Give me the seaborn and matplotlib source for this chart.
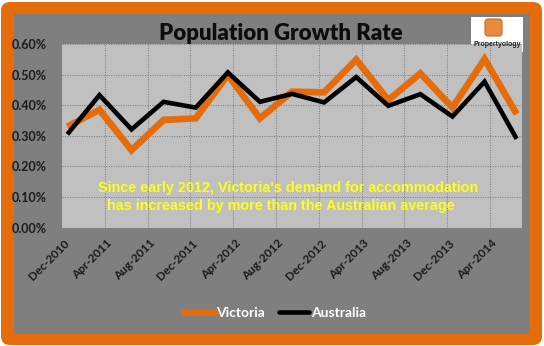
import matplotlib
matplotlib.use("Agg")
import matplotlib.pyplot as plt
import seaborn as sns
import pandas as pd
from matplotlib.patches import FancyBboxPatch, Rectangle
from matplotlib.lines import Line2D
from matplotlib.transforms import IdentityTransform

# ---- data ----
quarters = ["Dec-2010", "Mar-2011", "Jun-2011", "Sep-2011", "Dec-2011", "Mar-2012",
            "Jun-2012", "Sep-2012", "Dec-2012", "Mar-2013", "Jun-2013", "Sep-2013",
            "Dec-2013", "Mar-2014", "Jun-2014"]
victoria = [0.330, 0.385, 0.253, 0.352, 0.357, 0.499, 0.357, 0.444, 0.442,
            0.549, 0.417, 0.504, 0.392, 0.551, 0.371]
australia = [0.305, 0.433, 0.321, 0.411, 0.392, 0.507, 0.411, 0.437, 0.409,
             0.492, 0.398, 0.436, 0.363, 0.477, 0.290]
tick_labels = ["Dec-2010", "Apr-2011", "Aug-2011", "Dec-2011", "Apr-2012", "Aug-2012",
               "Dec-2012", "Apr-2013", "Aug-2013", "Dec-2013", "Apr-2014"]
y_ticks = [0.0, 0.1, 0.2, 0.3, 0.4, 0.5, 0.6]
series_names = ["Victoria", "Australia"]
colors = {"Victoria": "#E46C0A", "Australia": "#000000"}
widths = {"Victoria": 4.8, "Australia": 3.3}
title = "Population Growth Rate"
note1 = "Since early 2012, Victoria's demand for accommodation"
note2 = "has increased by more than the Australian average"

def month_index(labels):
    d = pd.to_datetime(labels, format="%b-%Y")
    base = pd.Timestamp("2010-12-01")
    return [(x.year - base.year) * 12 + (x.month - base.month) for x in d]

df = pd.DataFrame({
    "month": month_index(quarters) * 2,
    "value": victoria + australia,
    "series": ["Victoria"] * len(victoria) + ["Australia"] * len(australia),
})
tick_pos = month_index(tick_labels)

sns.set_theme(style="white")
plt.rcParams["font.family"] = ["Lato", "DejaVu Sans"]

W, H = 544, 346
fig = plt.figure(figsize=(W / 100, H / 100), dpi=100)
fig.patch.set_facecolor("white")

def px_rect(x0, y0, x1, y1):
    # image coords (top-left origin) -> display coords
    return x0, H - y1, x1 - x0, y1 - y0

x, y, w, h = px_rect(1, 2, 542, 345)
frame = FancyBboxPatch((x, y), w, h, boxstyle="round,pad=0,rounding_size=9",
                       transform=IdentityTransform(), fc="#E46C0A", ec="none", zorder=-3)
fig.add_artist(frame)
x, y, w, h = px_rect(14, 14, 530, 334)
inner = Rectangle((x, y), w, h, transform=IdentityTransform(), fc="#7F7F7F", ec="none", zorder=-2)
fig.add_artist(inner)

ax = fig.add_axes([62 / W, (H - 227.6) / H, 460 / W, 183.6 / H])
ax.set_facecolor("#C0C0C0")
for s in ax.spines.values():
    s.set_visible(False)

for name in series_names:
    sns.lineplot(data=df[df["series"] == name], x="month", y="value", ax=ax,
                 color=colors[name], linewidth=widths[name], legend=False,
                 solid_joinstyle="miter", solid_capstyle="butt", zorder=3 if name == "Australia" else 2)

ax.set_xlim(-0.5, 42.5)
ax.set_ylim(0, 0.6)
ax.set_xlabel("")
ax.set_ylabel("")

# gridlines
for k in range(1, 11):
    ax.axvline(tick_pos[k] - 0.5, color="#777777", lw=0.7, ls=(0, (1, 1.5)), zorder=1)
for yt in y_ticks[1:]:
    ax.axhline(yt, color="#777777", lw=0.7, ls=(0, (1, 1.5)), zorder=1)

ax.set_yticks(y_ticks)
ax.set_yticklabels([f"{v:.2f}%" for v in y_ticks], fontsize=9, fontweight="bold", color="#1a1a1a")
ax.set_xticks(tick_pos)
ax.set_xticklabels(tick_labels, rotation=45, ha="right", va="center", rotation_mode="anchor",
                   fontsize=8.5, fontweight="bold", color="#1a1a1a")
ax.tick_params(axis="y", length=0, pad=11)
ax.tick_params(axis="x", length=0, pad=10)

ax.text(0.491, 0.216, note1, transform=ax.transAxes, ha="center", va="center",
        fontsize=10.4, fontweight="bold", color="#FFFF1A", family=["Liberation Sans"], zorder=4)
ax.text(0.476, 0.118, note2, transform=ax.transAxes, ha="center", va="center",
        fontsize=10.4, fontweight="bold", color="#FFFF1A", family=["Liberation Sans"], zorder=4)

fig.text(281 / W, 1 - 33 / H, title, ha="center", va="center", fontsize=16,
         fontweight="heavy", color="#0d0d0d")

# logo
x, y, w, h = px_rect(471, 17, 523, 52)
fig.add_artist(Rectangle((x, y), w, h, transform=IdentityTransform(), fc="white", ec="none", zorder=-1))
x, y, w, h = px_rect(485, 19, 502, 36)
fig.add_artist(FancyBboxPatch((x, y), w, h, boxstyle="round,pad=0,rounding_size=3",
                              transform=IdentityTransform(), fc="#E98A3C", ec="#C9691F", lw=0.8, zorder=0))
fig.text(497 / W, 1 - 45 / H, "Propertyology", ha="center", va="center", fontsize=5,
         fontweight="bold", color="#222222", family=["Liberation Sans"])

handles = [Line2D([], [], color=colors[n], lw=widths[n]) for n in series_names]
leg = fig.legend(handles, series_names, loc="center", bbox_to_anchor=(275 / W, 1 - 313 / H),
                 ncol=2, frameon=False, handlelength=2.2, handletextpad=0.1, columnspacing=1.0,
                 prop={"weight": "bold", "size": 10})
for t in leg.get_texts():
    t.set_color("white")

fig.savefig("out.png", dpi=100)
